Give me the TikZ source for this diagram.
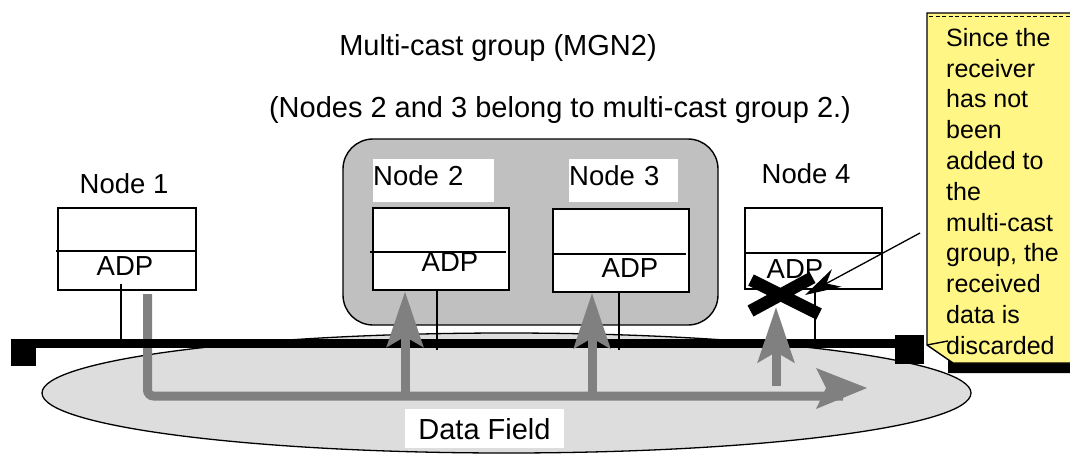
\documentclass[tikz,border=0pt]{standalone}
\usepackage{fontspec}
\setmainfont{Liberation Sans}
\usetikzlibrary{arrows.meta}
\definecolor{notecolor}{RGB}{255,246,133}
\definecolor{groupgray}{RGB}{192,192,192}
\definecolor{fieldgray}{RGB}{221,221,221}
\definecolor{flowgray}{RGB}{128,128,128}

\begin{document}
\begin{tikzpicture}[x=1pt, y=-1pt,
    hostbox/.style={draw, line width=1.4pt, fill=white, minimum width=137pt,
                    minimum height=82pt, inner sep=0pt},
    lbl/.style={font=\fontsize{27.5}{30}\selectfont, inner sep=0pt, anchor=base},
    tag/.style={lbl, fill=white, anchor=north west, text height=26pt,
                text depth=17pt, align=left},
    flow/.style={flowgray, line width=9pt,
                 -{Stealth[length=55pt, width=36pt, inset=10pt]}},
    thin/.style={line width=1.3pt},
    term/.style={fill=black, inner sep=0pt, minimum width=25pt, minimum height=27pt}]
            \clip (0,0) rectangle (1070,453);
            % data field and multi-cast group
            \draw[line width=1.3pt, fill=fieldgray] (506.5,393) ellipse [x radius=464.5pt, y radius=60pt];
            \node[draw, line width=1.4pt, fill=groupgray, rounded corners=30pt,
                  minimum width=375pt, minimum height=186pt] (group) at (530.5,232) {};
            \node[lbl, anchor=north, fill=white, minimum width=159pt, text height=30pt,
                  text depth=9pt, font=\fontsize{29}{32}\selectfont] (field) at (484.5,409) {Data Field};
            % sent data
            \coordinate (out1) at (147.5,294);
            \coordinate (turn) at (147.5,396);
            \coordinate (end) at (843,396);
            \draw[flowgray, line width=9pt, rounded corners=6pt] (out1) -- (turn) -- (end);
            \fill[flowgray] (816,368) -- (867,388) -- (816,409) -- (826,388) -- cycle;
            % bus
            \draw[line width=9pt] (25,343.5) -- (895,343.5);
            \node[term] (termL) at (23.5,352.5) {};
            \node[term, minimum width=29pt, minimum height=29pt] (termR) at (909.5,349.5) {};
            % nodes
            \node[hostbox, minimum width=138pt] (box1) at (127,249) {};
            \node[hostbox, minimum width=136pt] (box2) at (441,249) {};
            \node[hostbox, minimum width=136pt, minimum height=83pt] (box3) at (621,250.5) {};
            \node[hostbox, minimum height=81pt] (box4) at (813.5,248.5) {};
            \draw[thin] (56,251) -- (196,251) (370,252) -- (506,252)
                        (552,254) -- (686,254) (745,253) -- (882,253);
            \draw[thin] (121,284) -- (121,348) (437,290) -- (437,350)
                        (619,292) -- (619,350) (815,291) -- (815,340);
            \node[lbl] (adp1) at (125,275) {ADP};
            \node[lbl] (adp2) at (450,271) {ADP};
            \node[lbl] (adp3) at (630,277) {ADP};
            \node[lbl] (adp4) at (795,278) {ADP};
            \node[lbl] (name1) at (124,193) {Node 1};
            \node[tag, text width=121pt] (name2) at (373,159) {Node 2};
            \node[tag, text width=109pt] (name3) at (569,159) {Node 3};
            \node[lbl] (name4) at (806,183) {Node 4};
            % received data
            \coordinate (in2) at (405,291.5);
            \coordinate (in3) at (592,293);
            \coordinate (in4) at (776,307);
            \draw[flow] (405,400) -- (in2);
            \draw[flow] (592,400) -- (in3);
            \draw[flow] (776,386) -- (in4);
            % discarded
            \draw[line width=12.5pt] (751,280) -- (819,314)
                                     (750.5,311) -- (812.5,277.5);
            % note
            \fill[black] (948,350) -- (953,350) -- (953,363) -- (1080,363)
                         -- (1080,373) -- (948,373) -- cycle;
            \draw[line width=1.4pt, fill=notecolor] (927,13) -- (1080,13) -- (1080,363)
                  -- (953,363) -- (927,345) -- cycle;
            \draw[line width=1.4pt] (927,345) -- (948,341);
            \draw[line width=1.5pt, dash pattern=on 4pt off 2.5pt] (929,16.5) -- (1070,16.5);
            \node[anchor=north west, inner sep=0pt, align=left,
                  font=\fontsize{25}{30.8}\selectfont] (note) at (946,28)
                  {Since the\\receiver\\has not\\been\\added to\\the\\multi-cast\\group, the\\received\\data is\\discarded};
            \coordinate (from) at (920,233);
            \coordinate (hit) at (805,295);
            \draw[thin, -{Stealth[length=36pt, width=20pt]}] (from) -- (hit);
            % titles
            \node[lbl, font=\fontsize{29}{32}\selectfont] (title) at (498,55) {Multi-cast group (MGN2)};
            \node[lbl, font=\fontsize{29}{32}\selectfont] (members) at (560,117)
                  {(Nodes 2 and 3 belong to multi-cast group 2.)};
        \end{tikzpicture}
\end{document}
